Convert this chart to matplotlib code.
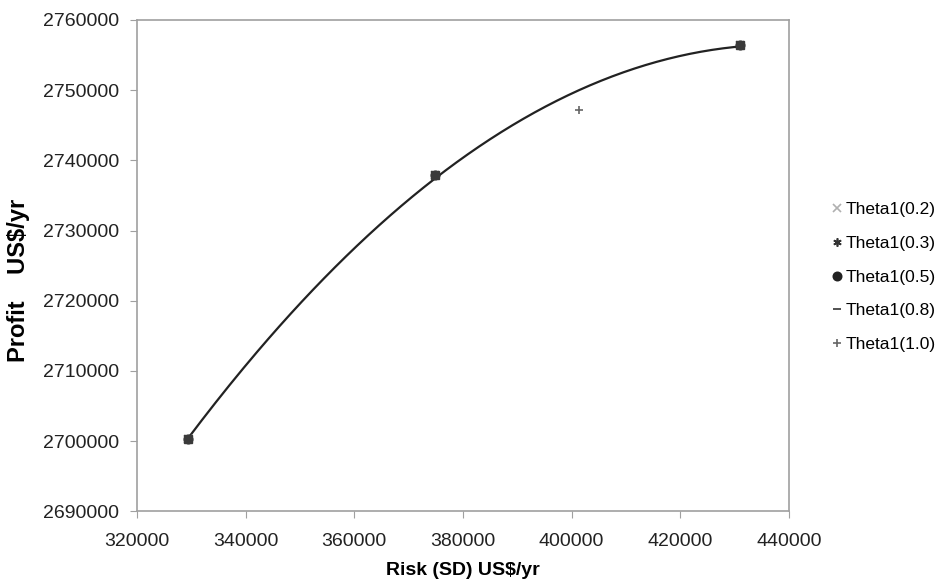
import matplotlib
matplotlib.use("Agg")
import matplotlib.pyplot as plt
import numpy as np

plt.rcParams['font.family'] = ['Liberation Sans', 'DejaVu Sans']

# points (risk SD, profit) per Theta1 setting
risk_main = [329400, 374800, 430950]
profit_main = [2700270, 2737950, 2756450]
risk_t10 = [401300]
profit_t10 = [2747200]

labels = ["Theta1(0.2)", "Theta1(0.3)", "Theta1(0.5)", "Theta1(0.8)", "Theta1(1.0)"]
markers = ["x", (6, 2, 0), "o", "_", "+"]
colors = ["#b0b0b0", "#333333", "#222222", "#333333", "#666666"]

fig = plt.figure(figsize=(9.38, 5.87), dpi=100)
ax = fig.add_axes([0.146, 0.129, 0.695, 0.837])

# trendline: 2nd order polynomial through all points
all_x = np.array(risk_main * 4 + risk_t10, dtype=float)
all_y = np.array(profit_main * 4 + profit_t10, dtype=float)
coef = np.polyfit(all_x, all_y, 2)
xs = np.linspace(min(all_x), max(all_x), 200)
ax.plot(xs, np.polyval(coef, xs), color="#222222", lw=1.6, zorder=2)

handles = []
for i, lab in enumerate(labels):
    if lab == "Theta1(1.0)":
        xx, yy = risk_t10, profit_t10
    else:
        xx, yy = risk_main, profit_main
    h, = ax.plot(xx, yy, linestyle="none", marker=markers[i], color=colors[i],
                 markersize=6, mew=1.2, label=lab, zorder=3)
    handles.append(h)
# dark blob where the markers overlap
ax.plot(risk_main, profit_main, linestyle="none", marker="s", color="#3a3a3a",
        markersize=6, zorder=4)

ax.set_xlim(320000, 440000)
ax.set_ylim(2690000, 2760000)
ax.set_xticks(np.arange(320000, 440001, 20000))
ax.set_yticks(np.arange(2690000, 2760001, 10000))
ax.ticklabel_format(useOffset=False, style="plain")

for s in ax.spines.values():
    s.set_color("#a0a0a0")
    s.set_linewidth(1.2)
ax.tick_params(direction="out", length=5, color="#a0a0a0", labelsize=14,
               labelcolor="#222222")
ax.tick_params(axis="x", pad=11)
ax.tick_params(axis="y", pad=8)

ax.set_xlabel("Risk (SD) US$/yr", fontsize=14, fontweight="bold", labelpad=8)
ax.set_ylabel("Profit    US$/yr", fontsize=17, fontweight="bold")
ax.yaxis.set_label_coords(-0.164, 0.47)

fig.legend(handles=handles, loc="center left", bbox_to_anchor=(0.8868, 0.528),
           frameon=False, fontsize=12.5, handlelength=0.6, handletextpad=0.22,
           labelspacing=1.07, borderpad=0, borderaxespad=0)

fig.savefig("out.png", dpi=100)
